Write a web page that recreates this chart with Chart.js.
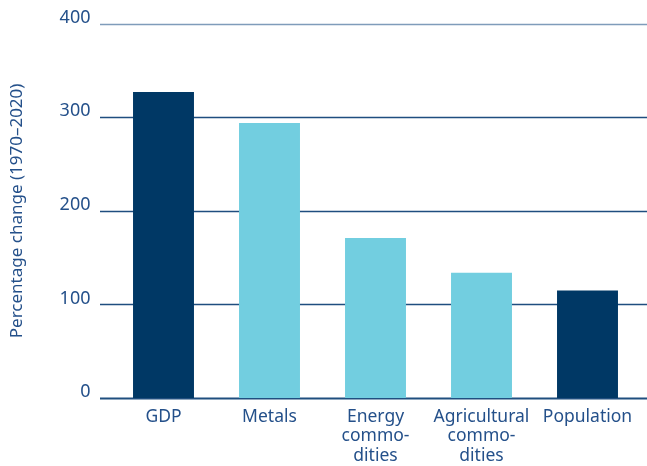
<!DOCTYPE html>
<html>
<head>
<meta charset="utf-8">
<script src="https://cdn.jsdelivr.net/npm/chart.js@4"></script>
<style>
  html, body { margin: 0; padding: 0; background: #fff; overflow: hidden; }
  #wrap { width: 647px; height: 473px; margin-top: -7px; }
</style>
</head>
<body>
<div id="wrap"><canvas id="chart"></canvas></div>
<script>
// Data
const categories = [['GDP'], ['Metals'], ['Energy', 'commo-', 'dities'], ['Agricultural', 'commo-', 'dities'], ['Population']];
const values = [327, 294, 171, 134, 115];
const barColors = ['#003865', '#72cee0', '#72cee0', '#72cee0', '#003865'];
const yTicks = [0, 100, 200, 300, 400];

const textColor = '#24508a';
const fontFamily = "'Noto Sans', sans-serif";

// horizontal rules start left of the plot and run to the page edge
const gridPlugin = {
  id: 'rules',
  beforeDatasetsDraw(chart) {
    const { ctx, scales: { y } } = chart;
    ctx.save();
    yTicks.forEach(v => {
      const py = Math.round(y.getPixelForValue(v)) + 0.5;
      ctx.beginPath();
      ctx.strokeStyle = v === 400 ? '#7f9cba' : '#1f4e7f';
      ctx.lineWidth = v === 0 ? 2 : 1.3;
      ctx.moveTo(100, py);
      ctx.lineTo(chart.width, py);
      ctx.stroke();
    });
    ctx.restore();
  }
};

new Chart(document.getElementById('chart'), {
  type: 'bar',
  data: {
    labels: categories,
    datasets: [{
      data: values,
      backgroundColor: barColors,
      barPercentage: 0.575,
      categoryPercentage: 1
    }]
  },
  options: {
    responsive: true,
    maintainAspectRatio: false,
    animation: false,
    layout: { padding: { top: 16, right: 6.5, left: 0, bottom: 0 } },
    plugins: { legend: { display: false }, tooltip: { enabled: false } },
    scales: {
      x: {
        grid: { display: false, drawTicks: false },
        border: { display: false },
        ticks: {
          color: textColor,
          padding: 9,
          maxRotation: 0,
          autoSkip: false,
          font: { family: fontFamily, size: 17.5, lineHeight: 1.11 }
        },
        afterFit: s => { s.height = 68; }
      },
      y: {
        min: 0,
        max: 400,
        grid: { display: false, drawTicks: false },
        border: { display: false },
        afterBuildTicks: s => { s.ticks = yTicks.map(v => ({ value: v })); },
        ticks: {
          color: textColor,
          padding: 20,
          labelOffset: -6,
          font: { family: fontFamily, size: 18 }
        },
        title: {
          display: true,
          text: 'Percentage change (1970–2020)',
          color: textColor,
          padding: { top: 7, bottom: 0 },
          font: { family: fontFamily, size: 17 }
        },
        afterFit: s => { s.width = 110.5; }
      }
    }
  },
  plugins: [gridPlugin]
});
</script>
</body>
</html>
